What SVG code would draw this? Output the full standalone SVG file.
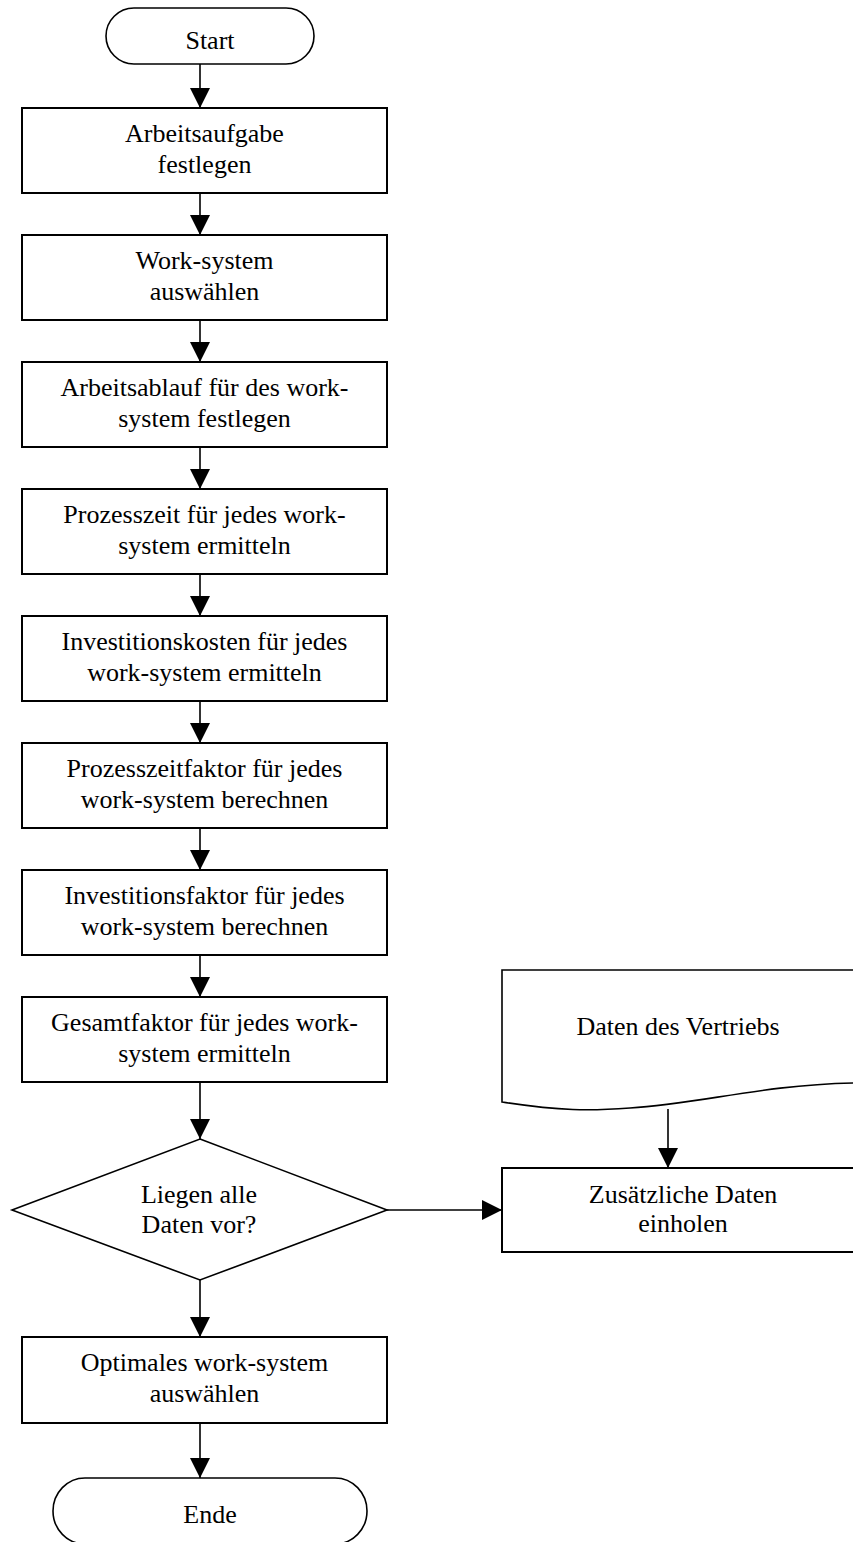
<svg xmlns="http://www.w3.org/2000/svg" width="853" height="1542" viewBox="0 0 853 1542">
<style>
.box{fill:#fff;stroke:#000;stroke-width:2}
.term{fill:#fff;stroke:#000;stroke-width:1.6}
.t{font-family:"Liberation Serif","Times New Roman",serif;font-size:26px;fill:#000;text-anchor:middle}
.c{stroke:#000;stroke-width:1.6;fill:none;marker-end:url(#ah)}
</style>
<defs>
<marker id="ah" markerUnits="userSpaceOnUse" markerWidth="20" markerHeight="20" refX="20" refY="10" orient="auto" viewBox="0 0 20 20">
<path d="M0,0 L20,10 L0,20 Z" fill="#000"/>
</marker>
</defs>
<rect width="853" height="1542" fill="#fff"/>
<g id="connectors">
<line class="c" x1="200" y1="64" x2="200" y2="108"/>
<line class="c" x1="200" y1="193" x2="200" y2="235"/>
<line class="c" x1="200" y1="320" x2="200" y2="362"/>
<line class="c" x1="200" y1="447" x2="200" y2="489"/>
<line class="c" x1="200" y1="574" x2="200" y2="616"/>
<line class="c" x1="200" y1="701" x2="200" y2="743"/>
<line class="c" x1="200" y1="828" x2="200" y2="870"/>
<line class="c" x1="200" y1="955" x2="200" y2="997"/>
<line class="c" x1="200" y1="1082" x2="200" y2="1139"/>
<line class="c" x1="200" y1="1280" x2="200" y2="1337"/>
<line class="c" x1="200" y1="1423" x2="200" y2="1478"/>
<line class="c" x1="387" y1="1210" x2="502" y2="1210"/>
<line class="c" x1="668" y1="1109" x2="668" y2="1168"/>
</g>
<g id="start">
<rect class="term" x="106" y="8" width="208" height="56" rx="28" ry="28"/>
<text class="t" x="210" y="49">Start</text>
</g>
<g id="n1">
<rect class="box" x="22" y="108" width="365" height="85"/>
<text class="t" x="204.5" y="142">Arbeitsaufgabe</text>
<text class="t" x="204.5" y="173">festlegen</text>
</g>
<g id="n2">
<rect class="box" x="22" y="235" width="365" height="85"/>
<text class="t" x="204.5" y="269">Work-system</text>
<text class="t" x="204.5" y="300">auswählen</text>
</g>
<g id="n3">
<rect class="box" x="22" y="362" width="365" height="85"/>
<text class="t" x="204.5" y="396">Arbeitsablauf für des work-</text>
<text class="t" x="204.5" y="427">system festlegen</text>
</g>
<g id="n4">
<rect class="box" x="22" y="489" width="365" height="85"/>
<text class="t" x="204.5" y="523">Prozesszeit für jedes work-</text>
<text class="t" x="204.5" y="554">system ermitteln</text>
</g>
<g id="n5">
<rect class="box" x="22" y="616" width="365" height="85"/>
<text class="t" x="204.5" y="650">Investitionskosten für jedes</text>
<text class="t" x="204.5" y="681">work-system ermitteln</text>
</g>
<g id="n6">
<rect class="box" x="22" y="743" width="365" height="85"/>
<text class="t" x="204.5" y="777">Prozesszeitfaktor für jedes</text>
<text class="t" x="204.5" y="808">work-system berechnen</text>
</g>
<g id="n7">
<rect class="box" x="22" y="870" width="365" height="85"/>
<text class="t" x="204.5" y="904">Investitionsfaktor für jedes</text>
<text class="t" x="204.5" y="935">work-system berechnen</text>
</g>
<g id="n8">
<rect class="box" x="22" y="997" width="365" height="85"/>
<text class="t" x="204.5" y="1031">Gesamtfaktor für jedes work-</text>
<text class="t" x="204.5" y="1062">system ermitteln</text>
</g>
<g id="decision">
<polygon class="term" points="200,1139 387,1210 200,1280 12,1210"/>
<text class="t" x="199" y="1203">Liegen alle</text>
<text class="t" x="199" y="1233">Daten vor?</text>
</g>
<g id="doc">
<path class="term" d="M502,970 H866 V1083 L853,1083 C760,1085 700,1104 630,1108 C590,1111 560,1111 502,1102 Z"/>
<text class="t" x="678" y="1035">Daten des Vertriebs</text>
</g>
<g id="extra">
<rect class="box" x="502" y="1168" width="365" height="84"/>
<text class="t" x="683" y="1203">Zusätzliche Daten</text>
<text class="t" x="683" y="1232">einholen</text>
</g>
<g id="n9">
<rect class="box" x="22" y="1337" width="365" height="86"/>
<text class="t" x="204.5" y="1371">Optimales work-system</text>
<text class="t" x="204.5" y="1402">auswählen</text>
</g>
<g id="end">
<rect class="term" x="53" y="1478" width="314" height="66" rx="32" ry="33"/>
<text class="t" x="210" y="1523">Ende</text>
</g>
</svg>
